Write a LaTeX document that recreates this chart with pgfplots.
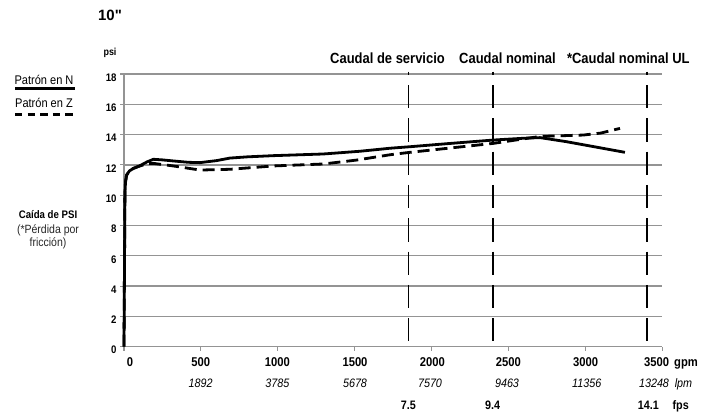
\documentclass[border=0pt]{standalone}
\usepackage{pgfplots}
\pgfplotsset{compat=1.18}
\usepackage{fontspec}
\setmainfont{Liberation Sans}[FakeStretch=0.88]
\newfontfamily\widefont{Liberation Sans}
\newcommand\fs[1]{\fontsize{#1}{#1}\selectfont}

\pgfplotstableread{
gpm psi
0 0
3 5
6 10.1
10 10.9
17 11.33
35 11.6
61 11.77
104 11.95
150 12.2
191 12.37
250 12.33
321 12.26
420 12.17
494 12.15
600 12.28
689 12.45
800 12.53
971 12.61
1296 12.72
1534 12.9
1730 13.1
1860 13.2
2100 13.4
2401 13.64
2600 13.76
2705 13.8
2878 13.53
3257 12.83
}\seriesN

\pgfplotstableread{
gpm psi
0 0
3 5
6 10.1
10 10.9
17 11.33
35 11.6
61 11.77
104 11.93
148 12.08
191 12.1
321 11.93
494 11.66
689 11.71
971 11.93
1296 12.06
1513 12.32
1730 12.67
1860 12.83
2401 13.42
2705 13.88
2986 13.97
3100 14.1
3225 14.41
}\seriesZ

\begin{document}
\begin{tikzpicture}
\useasboundingbox (0bp,0bp) rectangle (714bp,413bp);
\begin{axis}[
  at={(124bp,66.3bp)}, anchor=south west,
  scale only axis, width=538.3bp, height=272.7bp,
  xmin=0, xmax=3500, ymin=0, ymax=18,
  clip=false,
  axis x line*=bottom, axis y line*=left,
  axis line style={-, black!42, line width=1.3bp},
  xtick={0,500,...,3500}, xticklabels={},
  ytick={0,2,...,18},
  yticklabels={0,2,4,6,8,10,12,14,16,18},
  yticklabel style={font=\bfseries\fs{11}, yshift=-3.5bp},
  ymajorgrids,
  grid style={black!42, line width=1.3bp},
  tick align=outside, major tick length=4bp,
  tick style={black!42, line width=1.1bp},
]
\addplot[black, line width=2.8bp, line join=round, dash pattern=on 12bp off 6bp] table[x=gpm,y=psi] {\seriesZ};
\addplot[black, line width=2.8bp, line join=round] table[x=gpm,y=psi] {\seriesN};
\addplot[black, line width=1.8bp, dash pattern=on 23.3bp off 10bp, dash phase=20bp] coordinates {(1850,18.15) (1850,0)};
\addplot[black, line width=1.8bp, dash pattern=on 23.3bp off 10bp, dash phase=20bp] coordinates {(2400,18.15) (2400,0)};
\addplot[black, line width=1.8bp, dash pattern=on 23.3bp off 10bp, dash phase=20bp] coordinates {(3400,18.15) (3400,0)};
\end{axis}

% title and axis name
\node[anchor=base, inner sep=0] at (110bp,392.3bp) {\widefont\bfseries\fs{15}10"};
\node[anchor=base, inner sep=0] at (110bp,357.7bp) {\bfseries\fs{10.2}psi};

% legend
\node[anchor=base, inner sep=0] at (44bp,328bp) {\fs{12.6}Patrón en N};
\draw[line width=2.7bp] (15bp,324.2bp) -- (75bp,324.2bp);
\node[anchor=base, inner sep=0] at (44bp,305.3bp) {\fs{12.6}Patrón en Z};
\draw[line width=2.7bp, dash pattern=on 7.3bp off 5.3bp] (15bp,298.7bp) -- (73bp,298.7bp);

% y label
\node[anchor=base, inner sep=0] at (48bp,194bp) {\bfseries\fs{11}Caída de PSI};
\node[anchor=base, inner sep=0, text=black!85] at (48bp,179bp) {\fs{12}(*Pérdida por};
\node[anchor=base, inner sep=0, text=black!85] at (48bp,166.3bp) {\fs{12}fricción)};

% flow labels
\node[anchor=base, inner sep=0] at (387.5bp,349.7bp) {\bfseries\fs{14.8}Caudal de servicio};
\node[anchor=base, inner sep=0] at (507.5bp,349.7bp) {\bfseries\fs{14.8}Caudal nominal};
\node[anchor=base, inner sep=0] at (628.3bp,349.7bp) {\bfseries\fs{14.8}*Caudal nominal UL};

% x tick labels row 1 (gpm)
\foreach \xx/\lab in {130/0, 200.7/500, 277.3/1000, 355/1500, 432.3/2000, 508.3/2500, 585.7/3000, 656.7/3500}
  \node[anchor=base, inner sep=0] at (\xx bp,46.3bp) {\bfseries\fs{12.8}\lab};
\node[anchor=base, inner sep=0] at (686bp,46.3bp) {\bfseries\fs{12.8}gpm};

% row 2 (lpm)
\foreach \xx/\lab in {200.7/1892, 277.3/3785, 355/5678, 430/7570, 507/9463, 586.7/11356, 654/13248}
  \node[anchor=base, inner sep=0] at (\xx bp,25.7bp) {\itshape\fs{12.3}\lab};
\node[anchor=base, inner sep=0] at (683.5bp,25.7bp) {\itshape\fs{12.3}lpm};

% row 3 (fps)
\node[anchor=base, inner sep=0] at (408.3bp,4bp) {\bfseries\fs{12.3}7.5};
\node[anchor=base, inner sep=0] at (492.7bp,4bp) {\bfseries\fs{12.3}9.4};
\node[anchor=base, inner sep=0] at (648.3bp,4bp) {\bfseries\fs{12.3}14.1};
\node[anchor=base, inner sep=0] at (680.7bp,4bp) {\bfseries\fs{12.3}fps};
\end{tikzpicture}
\end{document}
